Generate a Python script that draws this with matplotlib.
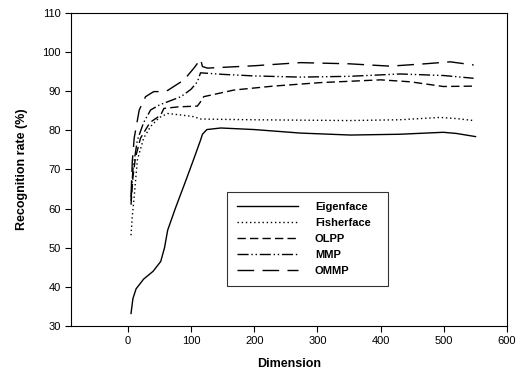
import numpy as np
import matplotlib.pyplot as plt

plt.rcParams['font.family'] = ['Liberation Sans', 'DejaVu Sans']

# data
eig_x = [5, 8, 13, 25, 40, 52, 58, 63, 75, 92, 105, 115, 118, 125, 147, 200, 273, 352, 430, 499, 520, 550]
eig_y = [33.2, 37, 39.5, 42, 44, 46.5, 50, 54.5, 60, 67.3, 73, 77.5, 79, 80.2, 80.6, 80.2, 79.3, 78.8, 79.0, 79.5, 79.2, 78.4]

fis_x = [5, 7, 10, 15, 25, 36, 50, 63, 80, 104, 115, 150, 200, 273, 350, 430, 494, 520, 547]
fis_y = [53.2, 58, 63, 72.4, 78, 81, 83.3, 84.3, 84, 83.5, 82.9, 82.8, 82.7, 82.6, 82.5, 82.7, 83.3, 83.0, 82.5]

olpp_x = [5, 8, 12, 20, 35, 52, 57, 80, 110, 115, 120, 168, 230, 305, 400, 447, 499, 547]
olpp_y = [61, 68, 73, 78, 82, 83.9, 85.6, 86, 86.2, 87.3, 88.6, 90.3, 91.3, 92.2, 92.9, 92.4, 91.2, 91.3]

mmp_x = [5, 8, 15, 25, 36, 50, 63, 84, 100, 110, 115, 150, 200, 273, 350, 431, 500, 547]
mmp_y = [62, 70, 77.5, 82, 85.2, 86.5, 87.3, 88.6, 90.5, 92.4, 94.7, 94.3, 93.9, 93.6, 93.8, 94.4, 94.0, 93.3]

ommp_x = [5, 7, 10, 18, 28, 41, 57, 63, 89, 105, 115, 118, 126, 200, 273, 350, 415, 470, 510, 547]
ommp_y = [63, 72, 78, 85.2, 88.6, 89.9, 89.9, 90.2, 92.9, 96, 98.2, 96.3, 95.9, 96.5, 97.3, 97.0, 96.4, 97.0, 97.5, 96.7]

fig = plt.figure(figsize=(5.18, 3.80), dpi=100)
ax = fig.add_axes([0.137, 0.142, 0.842, 0.824])

ax.plot(eig_x, eig_y, color='black', lw=1.0, linestyle='-', label='Eigenface')
ax.plot(fis_x, fis_y, color='black', lw=1.0, linestyle=(0, (1, 2)), label='Fisherface')
ax.plot(olpp_x, olpp_y, color='black', lw=1.0, linestyle=(0, (6, 3)), label='OLPP')
ax.plot(mmp_x, mmp_y, color='black', lw=1.0, linestyle=(0, (8, 2, 1, 2, 1, 2)), label='MMP')
ax.plot(ommp_x, ommp_y, color='black', lw=1.0, linestyle=(0, (12, 6)), label='OMMP')

ax.set_xlim(-90, 600)
ax.set_ylim(30, 110)
ax.set_xticks(np.arange(0, 601, 100))
ax.set_yticks(np.arange(30, 111, 10))
ax.tick_params(direction='out', length=4, width=0.8, labelsize=8, top=False, right=False)
for s in ax.spines.values():
    s.set_linewidth(0.8)

ax.set_xlabel('Dimension', fontsize=9, fontweight='bold', labelpad=8)
ax.set_ylabel('Recognition rate (%)', fontsize=9, fontweight='bold', labelpad=10)

leg = ax.legend(loc='lower left', bbox_to_anchor=(0.358, 0.128, 0.369, 0.306), mode='expand',
                borderaxespad=0, fancybox=False, frameon=True, edgecolor='black',
                handlelength=5.5, borderpad=0.9, labelspacing=0.55, handletextpad=1.5,
                prop={'weight': 'bold', 'size': 8})
leg.get_frame().set_linewidth(0.8)

fig.savefig('out.png', dpi=100)
